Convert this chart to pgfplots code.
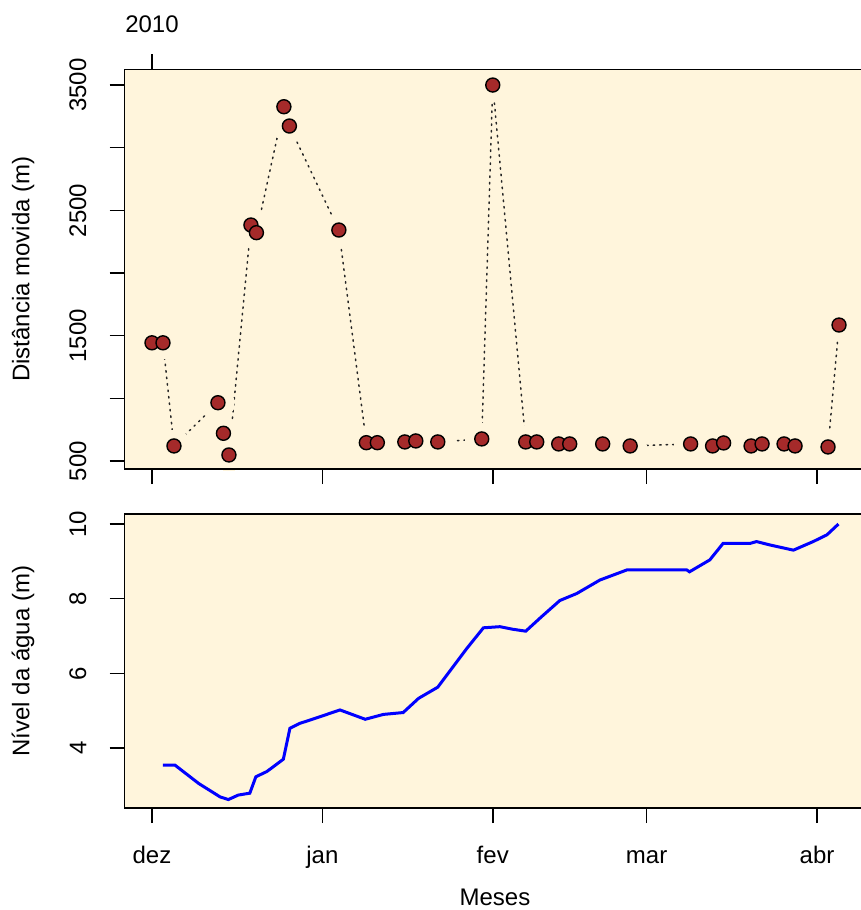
\documentclass[border=0pt]{standalone}
\usepackage{fontspec}
\setmainfont{Liberation Sans}
\usepackage{pgfplots}
\usepackage{pgfplotstable}
\pgfplotsset{compat=1.18}
\definecolor{bgc}{HTML}{FFF5DC}
\definecolor{ptc}{HTML}{A52A2A}

\pgfplotstableread{
day dist
0 1443
2 1443
4 620
12 965
13 721
14 548
18 2383
19 2322
24 3327
25 3173
34 2343
39 646
41 646
46 652
48 660
52 652
60 676
62 3500
68 652
70 652
74 636
76 636
82 636
87 620
98 636
102 620
104 644
109 620
111 636
115 636
117 620
123 612
125 1585
}\disttab

\pgfplotstableread{
day nivel
2.0 3.54
4.2 3.54
8.5 3.05
12.4 2.69
13.9 2.62
15.7 2.74
17.8 2.79
18.9 3.23
20.9 3.37
23.9 3.70
25.1 4.53
26.9 4.66
30.6 4.84
34.2 5.02
38.8 4.77
42.1 4.90
45.7 4.95
48.5 5.33
52.0 5.63
57.3 6.67
60.3 7.22
63.3 7.25
65.7 7.18
68.0 7.13
70.9 7.52
74.2 7.95
77.3 8.14
81.5 8.50
86.4 8.77
97.3 8.77
97.8 8.72
101.5 9.04
103.9 9.48
108.8 9.48
110.0 9.53
112.4 9.44
116.7 9.30
120.3 9.53
122.8 9.71
124.9 10.00
}\niveltab

\pgfplotsset{
  rstyle/.style={
    scale only axis, width=371pt, xmin=-5, xmax=130,
    axis background/.style={fill=bgc},
    axis line style={line width=0.9pt, black},
    tick align=outside, major tick length=7.5pt,
    every tick/.style={black, line width=0.8pt},
    tick label style={font=\fontsize{12}{14}\selectfont},
    /pgf/number format/assume math mode=true,
    /pgf/number format/set thousands separator={},
    xtick={0,31,62,90,121},
    xtick pos=bottom, ytick pos=left,
    yticklabel style={rotate=90, anchor=south},
    xticklabel style={text height=0.75em, text depth=0.22em},
    yticklabel shift=8pt,
    xticklabel shift=9pt,
  }
}

\begin{document}
\begin{tikzpicture}
% top panel
\begin{axis}[rstyle, name=top, at={(62.25pt,-234.5pt)}, anchor=south west, height=199.75pt,
  ymin=436, ymax=3624,
  ytick={500,1000,...,3500}, yticklabels={500,,1500,,2500,,3500},
  xticklabels={}]
\addplot[black!85, line width=0.75pt, dash pattern=on 0.75pt off 2.5pt, line cap=round] table[x=day,y=dist] {\disttab};
\addplot[bgc, only marks, mark=*, mark size=8pt, mark options={fill=bgc, draw=bgc, line width=0pt}] table[x=day,y=dist] {\disttab};
\addplot[black, only marks, mark=*, mark size=3.5pt, mark options={fill=ptc, draw=black, line width=0.7pt}] table[x=day,y=dist] {\disttab};
\end{axis}
\draw[black, line width=0.9pt] (top.south west) -- (top.south east);
% top tick 2010
\begin{axis}[scale only axis, width=371pt, height=199.75pt, xmin=-5, xmax=130, ymin=436, ymax=3624,
  at={(62.25pt,-234.5pt)}, anchor=south west,
  axis x line*=top, hide y axis,
  axis line style={line width=0.9pt, black},
  tick align=outside, major tick length=7.5pt,
  every tick/.style={black, line width=0.8pt},
  tick label style={font=\fontsize{12}{14}\selectfont},
  xticklabel shift=7.5pt,
  xtick={0}, xticklabels={2010}]
\addplot[draw=none] coordinates {(0,1000)};
\end{axis}
% bottom panel
\begin{axis}[rstyle, at={(62.25pt,-404pt)}, anchor=south west, height=147pt,
  ymin=2.393, ymax=10.268,
  ytick={4,6,8,10},
  xticklabels={dez,jan,fev,mar,abr}]
\addplot[blue, line width=1.5pt] table[x=day,y=nivel] {\niveltab};
\end{axis}
\node[rotate=90, font=\fontsize{12}{14}\selectfont] at (11.5pt,-134.6pt) {Distância movida (m)};
\node[rotate=90, font=\fontsize{12}{14}\selectfont] at (11.5pt,-330.5pt) {Nível da água (m)};
\node[font=\fontsize{12}{14}\selectfont] at (247.5pt,-448.5pt) {Meses};
\pgfresetboundingbox
\useasboundingbox (0,0) rectangle (430.5pt,-455pt);
\end{tikzpicture}
\end{document}
